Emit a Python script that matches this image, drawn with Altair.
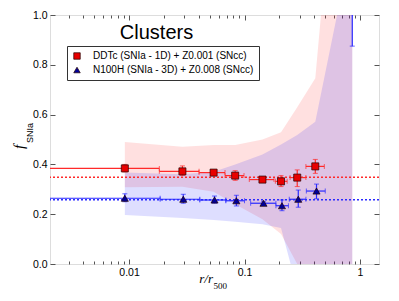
import altair as alt
import pandas as pd

# ---------------- data ----------------
label_red = "DDTc (SNIa - 1D) + Z0.001 (SNcc)"
label_blue = "N100H (SNIa - 3D) + Z0.008 (SNcc)"

red_x = [0.0092, 0.029, 0.054, 0.083, 0.143, 0.207, 0.286, 0.41]
red_y = [0.384, 0.372, 0.367, 0.355, 0.339, 0.332, 0.347, 0.392]
red_xlo = [0.001, 0.0183, 0.0404, 0.0678, 0.110, 0.185, 0.248, 0.340]
red_xhi = [0.0183, 0.0404, 0.0678, 0.099, 0.180, 0.234, 0.340, 0.491]
red_ylo = [0.370, 0.356, 0.360, 0.336, 0.333, 0.311, 0.311, 0.364]
red_yhi = [0.400, 0.394, 0.375, 0.375, 0.345, 0.355, 0.378, 0.420]

blue_x = [0.0092, 0.0295, 0.055, 0.085, 0.146, 0.211, 0.292, 0.42, 0.857]
blue_y = [0.264, 0.260, 0.257, 0.254, 0.244, 0.234, 0.260, 0.293, 1.2]
blue_xlo = [0.001, 0.0186, 0.041, 0.0689, 0.113, 0.187, 0.244, 0.343, 0.857]
blue_xhi = [0.0186, 0.041, 0.0689, 0.100, 0.187, 0.240, 0.340, 0.500, 0.857]
blue_ylo = [0.250, 0.244, 0.244, 0.233, 0.237, 0.214, 0.228, 0.262, 0.875]
blue_yhi = [0.282, 0.280, 0.273, 0.276, 0.250, 0.257, 0.297, 0.321, 1.5]

band_x = [0.0092, 0.029, 0.054, 0.083, 0.143, 0.207, 0.286, 0.41, 0.857]
red_top = [0.49, 0.471, 0.478, 0.478, 0.50, 0.529, 0.63, 0.746, 2.4]
red_bot = [0.308, 0.31, 0.29, 0.24, 0.18, 0.12, 0.0, -0.1, -0.3]
blue_top = [0.367, 0.36, 0.37, 0.40, 0.44, 0.48, 0.518, 0.571, 1.3]
blue_bot = [0.197, 0.185, 0.177, 0.17, 0.16, 0.145, -0.1, -0.2, -0.3]

red_mean = 0.348
blue_mean = 0.258

x_major = [0.01, 0.1, 1]
x_minor = [0.003, 0.004, 0.005, 0.006, 0.007, 0.008, 0.009,
           0.02, 0.03, 0.04, 0.05, 0.06, 0.07, 0.08, 0.09,
           0.2, 0.3, 0.4, 0.5, 0.6, 0.7, 0.8, 0.9]
y_ticks = [0.0, 0.2, 0.4, 0.6, 0.8, 1.0]

# ---------------- tables ----------------
red_df = pd.DataFrame({"series": label_red, "x": red_x, "y": red_y,
                       "xlo": red_xlo, "xhi": red_xhi, "ylo": red_ylo, "yhi": red_yhi})
blue_df = pd.DataFrame({"series": label_blue, "x": blue_x, "y": blue_y,
                        "xlo": blue_xlo, "xhi": blue_xhi, "ylo": blue_ylo, "yhi": blue_yhi})
pts_df = pd.concat([red_df, blue_df], ignore_index=True)
band_df = pd.DataFrame({"x": band_x, "rt": red_top, "rb": red_bot, "bt": blue_top, "bb": blue_bot})
mean_df = pd.DataFrame({"v": [red_mean, blue_mean], "series": [label_red, label_blue]})

W, H = 329, 249
xs = alt.Scale(type="log", domain=[0.00207, 1.46])
ys = alt.Scale(domain=[0, 1])

RED = "#ff2a2a"
BLUE = "#2a2aff"
SANS = "Liberation Sans"
SERIF = "Liberation Serif"
FRAME = "#7f7f7f"


def X(field="x", axis=None):
    return alt.X(f"{field}:Q", scale=xs, axis=axis)


def Y(field="y", axis=None):
    return alt.Y(f"{field}:Q", scale=ys, axis=axis)


# bands
red_band = alt.Chart(band_df).mark_area(color="#ff0000", opacity=0.12, clip=True).encode(
    x=X(), y=Y("rb"), y2="rt:Q")
blue_band = alt.Chart(band_df).mark_area(color="#0000ff", opacity=0.13, clip=True).encode(
    x=X(), y=Y("bb"), y2="bt:Q")

# dotted mean lines
red_mean_rule = alt.Chart(mean_df).transform_filter(f"datum.series == '{label_red}'").mark_rule(
    color=RED, strokeDash=[2, 2], strokeWidth=1.5).encode(y=Y("v"))
blue_mean_rule = alt.Chart(mean_df).transform_filter(f"datum.series == '{label_blue}'").mark_rule(
    color=BLUE, strokeDash=[2, 2], strokeWidth=1.5).encode(y=Y("v"))


def errbars(df, color):
    xe = alt.Chart(df).transform_filter("datum.xhi > datum.xlo").mark_errorbar(
        color=color, clip=True, thickness=1.2, ticks={"size": 5, "thickness": 1}).encode(
        x=X("xlo"), x2="xhi:Q", y=Y("y"))
    ye = alt.Chart(df).mark_errorbar(
        color=color, clip=True, thickness=1.2, ticks={"size": 5, "thickness": 1}).encode(
        y=Y("ylo"), y2="yhi:Q", x=X("x"))
    return [xe, ye]


points = alt.Chart(pts_df).mark_point(filled=True, size=50, stroke="#220000",
                                      strokeWidth=0.7, opacity=1, clip=True).encode(
    x=X(), y=Y(),
    color=alt.Color("series:N",
                    scale=alt.Scale(domain=[label_red, label_blue], range=["#e80000", "#000099"]),
                    legend=alt.Legend(orient="none", legendX=17, legendY=31, title=None,
                                      fillColor="white", strokeColor="#333333", padding=5,
                                      labelFont=SANS, labelFontSize=10, labelColor="black",
                                      labelLimit=400,
                                      symbolSize=42, rowPadding=4, labelOffset=11,
                                      symbolStrokeWidth=0.7, cornerRadius=0)),
    shape=alt.Shape("series:N",
                    scale=alt.Scale(domain=[label_red, label_blue], range=["square", "triangle-up"]),
                    legend=None),
)

common_axis = dict(domain=False, grid=False, tickColor="#555555", tickWidth=1,
                   labelFont=SANS, labelFontSize=10.5, labelColor="black", title=None)

axA = alt.Chart(pts_df).mark_point(opacity=0).encode(
    x=X(axis=alt.Axis(orient="bottom", values=x_major, format="~g", offset=-5, tickSize=5,
                      labelPadding=3, labelOverlap=False, labelFlush=False, **common_axis)),
    y=Y(axis=alt.Axis(orient="left", values=y_ticks, format=".1f", offset=-5, tickSize=5,
                      labelPadding=3, labelOverlap=False, labelFlush=False, **common_axis)))
axB = alt.Chart(pts_df).mark_point(opacity=0).encode(
    x=X(axis=alt.Axis(orient="bottom", values=x_minor, offset=-3, tickSize=3, labels=False,
                      **common_axis)),
    y=Y(axis=alt.Axis(orient="right", values=y_ticks, offset=-5, tickSize=5, labels=False,
                      **common_axis)))
axC = alt.Chart(pts_df).mark_point(opacity=0).encode(
    x=X(axis=alt.Axis(orient="top", values=x_major, offset=-5, tickSize=5, labels=False,
                      **common_axis)),
    y=Y())
axD = alt.Chart(pts_df).mark_point(opacity=0).encode(
    x=X(axis=alt.Axis(orient="top", values=x_minor, offset=-3, tickSize=3, labels=False,
                      **common_axis)),
    y=Y())

title_txt = alt.Chart(pd.DataFrame({"t": ["Clusters"]})).mark_text(
    font=SANS, fontSize=20, align="center", baseline="alphabetic", color="black").encode(
    text="t:N", x=alt.value(106.5), y=alt.value(24.3))

xlab1 = alt.Chart(pd.DataFrame({"t": ["r/r"]})).mark_text(
    font=SERIF, fontStyle="italic", fontSize=13, align="right", baseline="alphabetic",
    color="black").encode(text="t:N", x=alt.value(163), y=alt.value(268))
xlab2 = alt.Chart(pd.DataFrame({"t": ["500"]})).mark_text(
    font=SERIF, fontSize=9, align="left", baseline="alphabetic", color="black").encode(
    text="t:N", x=alt.value(163.5), y=alt.value(274))

ylab1 = alt.Chart(pd.DataFrame({"t": ["f"]})).mark_text(
    font=SERIF, fontStyle="italic", fontSize=15, align="center", baseline="alphabetic",
    angle=270, color="black").encode(text="t:N", x=alt.value(-26), y=alt.value(132))
ylab2 = alt.Chart(pd.DataFrame({"t": ["SNIa"]})).mark_text(
    font=SANS, fontSize=9, align="left", baseline="alphabetic", angle=270,
    color="black").encode(text="t:N", x=alt.value(-17), y=alt.value(128))

layers = [red_band, blue_band, red_mean_rule, blue_mean_rule]
layers += errbars(red_df, RED)
layers += errbars(blue_df, BLUE)
layers += [points, title_txt, xlab1, xlab2, ylab1, ylab2, axA, axB, axC, axD]

chart = alt.layer(*layers).resolve_axis(x="independent", y="independent").properties(
    width=W, height=H,
    autosize=alt.AutoSizeParams(type="none"),
    padding={"left": 42, "top": 7, "right": 12, "bottom": 29},
).configure_view(stroke=FRAME, strokeWidth=1.5).configure(background="white")

chart.save("out.html", embed_options={"renderer": "svg", "actions": False})
